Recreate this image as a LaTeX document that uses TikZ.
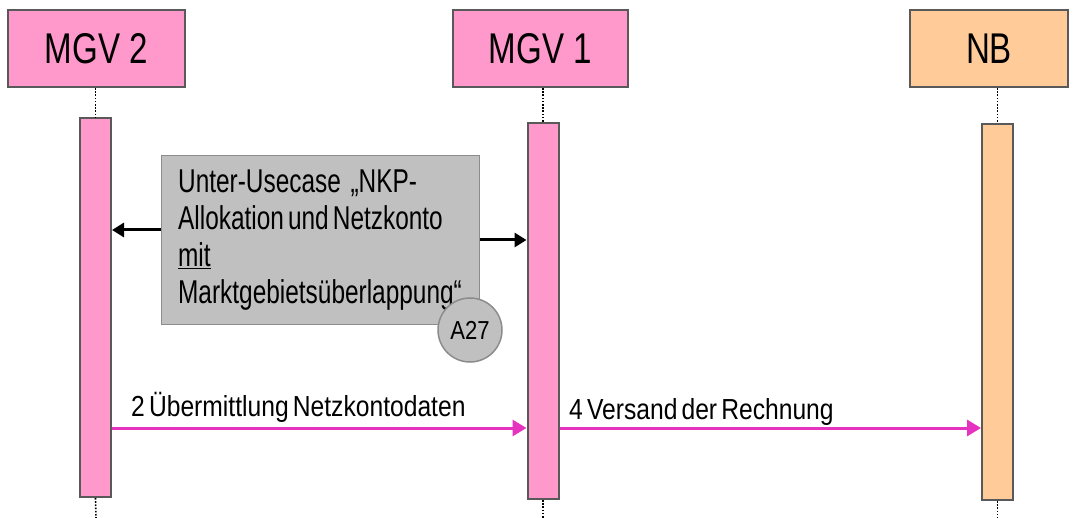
\documentclass[tikz,border=0pt]{standalone}
\usepackage{fontspec}
\setmainfont{Liberation Sans}
\newfontfamily\hdrfont[FakeStretch=0.77]{Liberation Sans}
\newfontfamily\boxfont[FakeStretch=0.74,WordSpace=0.6]{Liberation Sans}
\newfontfamily\msgfont[FakeStretch=0.85,WordSpace=0.6]{Liberation Sans}
\usetikzlibrary{arrows.meta}
\definecolor{mpink}{RGB}{255,153,204}
\definecolor{morange}{RGB}{255,204,153}
\definecolor{mgray}{RGB}{192,192,192}
\definecolor{mborder}{RGB}{89,89,89}
\definecolor{cborder}{RGB}{140,140,140}
\definecolor{mmag}{RGB}{230,50,190}
\tikzset{
  hdr/.style={draw=mborder, line width=2pt, minimum height=77pt, inner sep=0pt,
    font=\hdrfont\fontsize{43}{43}\selectfont},
  bar/.style={draw=mborder, line width=2pt, minimum width=31pt, inner sep=0pt},
  life/.style={draw=black, line width=1.6pt, dash pattern=on 1.6pt off 1.6pt},
  ucbox/.style={draw=cborder, line width=1pt, fill=mgray, minimum width=318pt,
    minimum height=168pt, inner xsep=0pt, inner ysep=0pt, align=left,
    font=\boxfont\fontsize{33}{36.8}\selectfont},
  badge/.style={circle, draw=cborder, line width=1.5pt, fill=mgray, minimum size=64pt,
    inner sep=0pt, font=\msgfont\fontsize{26}{26}\selectfont},
  blk/.style={draw=black, line width=3pt, -{Triangle[length=12pt,width=14pt]}},
  msg/.style={draw=mmag, line width=3pt, -{Triangle[length=14pt,width=16pt]}},
  msglbl/.style={inner sep=0pt, anchor=base west, font=\msgfont\fontsize{29}{29}\selectfont}
}
\begin{document}
\begin{tikzpicture}[x=1pt,y=-1pt]
\useasboundingbox (0,0) rectangle (1075,518);
% headers
\node[hdr, fill=mpink, minimum width=177pt] (h2) at (96.5,48.5) {MGV 2};
\node[hdr, fill=mpink, minimum width=175pt] (h1) at (540.5,48.5) {MGV 1};
\node[hdr, fill=morange, minimum width=158pt] (hn) at (989,48.5) {NB};
% activation bars
\node[bar, fill=mpink, minimum width=31pt, minimum height=379pt] (a2) at (95.5,307.5) {};
\node[bar, fill=mpink, minimum height=376pt] (a1) at (543,311) {};
\node[bar, fill=morange, minimum height=376pt] (an) at (997.5,312) {};
% lifelines
\coordinate (e2) at (96,518);
\coordinate (e1) at (543,518);
\coordinate (en) at (997.5,518);
\draw[life] (a2.north |- h2.south) -- (a2.north);
\draw[life] (a2.south) -- (e2);
\draw[life] (a1.north |- h1.south) -- (a1.north);
\draw[life] (a1.south) -- (e1);
\draw[life] (an.north |- hn.south) -- (an.north);
\draw[life] (an.south) -- (en);
% use case box
\node[ucbox] (uc) at (320,240) {Unter-Usecase \,„NKP-\\Allokation und Netzkonto\\\underline{mit}\\Marktgebietsüberlappung“};
\node[badge] (b27) at (470,330) {A27};
\coordinate (ucl) at ([yshift=10pt]uc.west);
\draw[blk] (ucl) -- (a2.east |- ucl);
\draw[blk] (uc.east) -- (a1.west |- uc.east);
% messages
\coordinate (m) at (0,428);
\draw[msg] (a2.east |- m) -- (a1.west |- m);
\draw[msg] (a1.east |- m) -- (an.west |- m);
\node[msglbl] (l2) at (131,416) {2 Übermittlung Netzkontodaten};
\node[msglbl] (l4) at (569,419) {4 Versand der Rechnung};
\end{tikzpicture}
\end{document}
